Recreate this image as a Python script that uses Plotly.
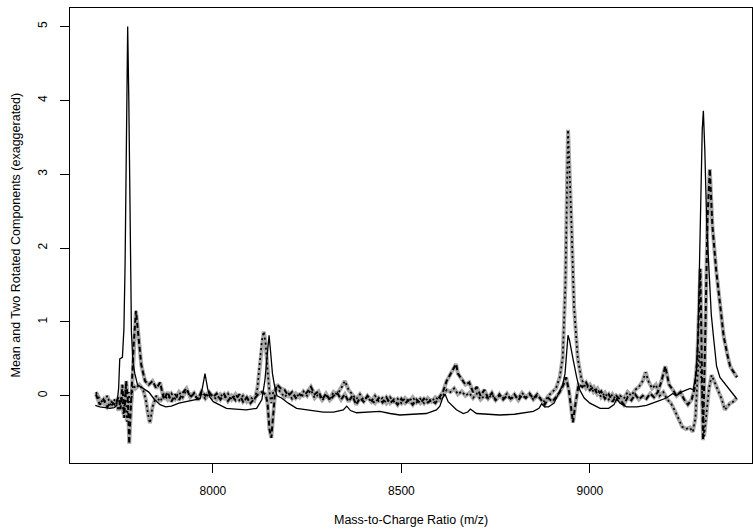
import plotly.graph_objects as go

# ---- Mean spectrum (solid black) ----
mean_mz = [7688, 7700, 7715, 7727, 7738, 7745, 7750, 7753, 7760, 7764, 7767, 7771, 7774, 7777, 7780,
           7784, 7788, 7793, 7800, 7815, 7830, 7845, 7860, 7875, 7890, 7910, 7926, 7945, 7966, 7972,
           7979, 7986, 7992, 8001, 8020, 8036, 8060, 8089, 8116, 8130, 8138, 8144, 8149, 8153, 8158,
           8164, 8170, 8182, 8200, 8222, 8260, 8293, 8320, 8346, 8355, 8365, 8381, 8410, 8443, 8470,
           8496, 8530, 8566, 8593, 8602, 8610, 8616, 8624, 8635, 8646, 8664, 8676, 8683, 8690, 8699,
           8730, 8761, 8800, 8850, 8865, 8872, 8880, 8890, 8905, 8920, 8928, 8934, 8938, 8942, 8946,
           8951, 8956, 8965, 8973, 8985, 9000, 9027, 9050, 9064, 9071, 9080, 9097, 9125, 9150, 9177,
           9203, 9220, 9229, 9242, 9256, 9266, 9274, 9282, 9287, 9291, 9295, 9298, 9301, 9305, 9310,
           9316, 9322, 9327, 9332, 9336, 9345, 9358, 9372, 9388]
mean_val = [-0.13, -0.15, -0.16, -0.17, -0.16, -0.13, 0.1, 0.5, 0.52, 0.9, 1.74, 3.6, 5.0, 4.0, 2.64,
            0.85, 0.45, 0.3, 0.15, 0.1, 0.05, -0.05, -0.12, -0.15, -0.14, -0.1, -0.08, -0.06, -0.04, 0.1,
            0.3, 0.1, -0.02, -0.08, -0.13, -0.17, -0.18, -0.19, -0.17, -0.05, 0.21, 0.55, 0.82, 0.6, 0.3,
            0.12, 0.0, -0.03, -0.1, -0.17, -0.2, -0.22, -0.22, -0.19, -0.14, -0.2, -0.23, -0.22, -0.21, -0.24,
            -0.26, -0.25, -0.24, -0.19, -0.14, -0.02, 0.02, -0.08, -0.14, -0.19, -0.24, -0.22, -0.18, -0.21, -0.24,
            -0.25, -0.26, -0.25, -0.21, -0.17, -0.11, -0.15, -0.15, -0.1, 0.05, 0.15, 0.3, 0.6, 0.82, 0.75,
            0.6, 0.48, 0.25, 0.08, -0.03, -0.1, -0.17, -0.17, -0.12, -0.04, -0.1, -0.15, -0.15, -0.13, -0.08,
            -0.03, 0.03, 0.0, 0.05, 0.08, 0.1, 0.08, 0.3, 0.84, 2.0, 3.1, 3.6, 3.86, 3.3, 2.3,
            1.6, 1.1, 0.84, 0.55, 0.4, 0.25, 0.17, 0.08, -0.03]

# ---- Rotated component 1 (grey + black dashed) ----
c1_mz = [7690, 7700, 7710, 7720, 7730, 7740, 7750, 7755, 7760, 7765, 7770, 7775, 7778, 7782, 7786,
         7790, 7796, 7802, 7810, 7820, 7830, 7840, 7850, 7860, 7870, 7880, 7890, 7900, 7910, 7920,
         7930, 7940, 7950, 7960, 7970, 7980, 7990, 8000, 8010, 8020, 8030, 8040, 8050, 8060, 8070,
         8080, 8090, 8100, 8110, 8120, 8130, 8140, 8145, 8150, 8155, 8160, 8165, 8170, 8180, 8190,
         8200, 8210, 8220, 8230, 8240, 8250, 8260, 8270, 8280, 8290, 8300, 8310, 8320, 8330, 8340,
         8350, 8360, 8370, 8380, 8390, 8400, 8410, 8420, 8430, 8440, 8450, 8460, 8470, 8480, 8490,
         8500, 8510, 8520, 8530, 8540, 8550, 8560, 8570, 8580, 8590, 8600, 8610, 8620, 8630, 8640,
         8645, 8650, 8660, 8670, 8680, 8690, 8700, 8710, 8720, 8730, 8740, 8750, 8760, 8770, 8780,
         8790, 8800, 8810, 8820, 8830, 8840, 8850, 8860, 8870, 8880, 8890, 8900, 8910, 8920, 8930,
         8937, 8945, 8955, 8962, 8970, 8980, 8990, 9000, 9010, 9020, 9030, 9040, 9050, 9060, 9070,
         9080, 9090, 9100, 9110, 9120, 9130, 9140, 9150, 9160, 9170, 9180, 9190, 9200, 9210, 9220,
         9230, 9240, 9250, 9260, 9270, 9278, 9285, 9293, 9300, 9306, 9312, 9318, 9325, 9335, 9345,
         9355, 9365, 9372, 9380, 9385, 9390]
c1_val = [0.02, -0.12, -0.05, -0.15, -0.08, -0.12, -0.02, -0.18, 0.15, -0.3, 0.2, -0.1, -0.65, -0.2, 0.3,
          0.7, 1.15, 0.85, 0.42, 0.2, 0.15, 0.2, 0.1, 0.18, -0.05, 0.05, -0.08, 0.02, -0.06, 0.04,
          0.1, -0.02, 0.03, -0.05, 0.06, 0.0, 0.05, -0.02, 0.03, -0.05, 0.02, -0.07, 0.0, -0.06, 0.02,
          -0.08, -0.02, -0.1, -0.04, 0.02, 0.05, 0.02, -0.1, -0.45, -0.57, -0.2, 0.05, 0.15, 0.1, 0.08,
          0.0, 0.05, -0.03, 0.02, 0.0, 0.05, 0.12, 0.02, 0.06, -0.05, 0.03, -0.06, 0.0, 0.04, -0.05,
          0.02, -0.08, 0.0, -0.12, -0.03, -0.08, 0.0, -0.06, -0.1, -0.03, -0.09, -0.02, -0.1, -0.05, -0.12,
          -0.04, -0.1, -0.06, -0.12, -0.05, -0.1, -0.04, -0.09, -0.06, -0.1, -0.02, 0.05, 0.2, 0.3, 0.38,
          0.43, 0.3, 0.22, 0.15, 0.18, 0.05, 0.12, 0.0, 0.08, -0.03, 0.04, -0.06, 0.02, -0.05, 0.0,
          -0.04, 0.02, -0.06, 0.01, -0.03, 0.03, -0.04, 0.02, -0.05, -0.12, -0.03, -0.08, -0.02, 0.05, 0.15,
          0.25, 0.05, -0.36, -0.1, 0.15, 0.12, 0.18, 0.08, 0.12, 0.02, 0.06, -0.04, 0.02, -0.08, 0.0,
          -0.05, -0.12, -0.02, -0.06, 0.02, -0.05, 0.0, -0.04, 0.03, -0.02, 0.05, 0.2, 0.4, 0.15, 0.08,
          0.0, 0.05, -0.05, -0.12, -0.05, 0.1, 0.5, 1.72, -0.6, 0.8, 2.4, 3.07, 2.3, 1.7, 1.25,
          0.8, 0.55, 0.4, 0.33, 0.3, 0.25]

# ---- Rotated component 2 (grey + black dotted) ----
c2_mz = [7690, 7700, 7710, 7720, 7730, 7740, 7750, 7758, 7763, 7768, 7772, 7777, 7782, 7788, 7795,
         7805, 7815, 7822, 7828, 7833, 7840, 7850, 7860, 7870, 7880, 7890, 7900, 7910, 7920, 7930,
         7940, 7950, 7960, 7970, 7980, 7990, 8000, 8010, 8020, 8030, 8040, 8050, 8060, 8070, 8080,
         8090, 8100, 8110, 8118, 8125, 8130, 8135, 8140, 8145, 8150, 8155, 8160, 8170, 8180, 8190,
         8200, 8210, 8220, 8230, 8240, 8250, 8260, 8270, 8280, 8290, 8300, 8310, 8320, 8330, 8340,
         8350, 8360, 8370, 8380, 8390, 8400, 8410, 8420, 8430, 8440, 8450, 8460, 8470, 8480, 8490,
         8500, 8510, 8520, 8530, 8540, 8550, 8560, 8570, 8580, 8590, 8600, 8610, 8620, 8630, 8640,
         8650, 8660, 8670, 8680, 8690, 8700, 8710, 8720, 8730, 8740, 8750, 8760, 8770, 8780, 8790,
         8800, 8810, 8820, 8830, 8840, 8850, 8860, 8870, 8880, 8890, 8900, 8910, 8920, 8928, 8935,
         8942, 8950, 8958, 8968, 8978, 8990, 9000, 9010, 9020, 9030, 9040, 9050, 9060, 9070, 9080,
         9090, 9100, 9110, 9120, 9130, 9140, 9148, 9155, 9165, 9175, 9185, 9195, 9205, 9215, 9225,
         9235, 9245, 9255, 9265, 9273, 9280, 9285, 9290, 9296, 9303, 9310, 9316, 9323, 9330, 9340,
         9350, 9358, 9365, 9372, 9380, 9390]
c2_val = [0.05, -0.05, -0.1, 0.0, -0.15, -0.05, -0.2, 0.0, -0.25, 0.1, -0.35, 0.05, -0.15, 0.15, 0.1,
          0.15, 0.08, -0.05, -0.25, -0.37, -0.15, 0.0, -0.08, 0.02, -0.05, 0.03, -0.04, 0.05, -0.02, 0.08,
          0.0, 0.04, -0.06, 0.02, -0.04, 0.03, 0.0, -0.05, 0.02, -0.03, 0.03, -0.05, 0.02, -0.06, 0.0,
          -0.08, -0.02, -0.06, 0.1, 0.45, 0.75, 0.87, 0.7, 0.35, 0.05, -0.1, 0.05, 0.1, 0.05, -0.02,
          0.04, -0.04, 0.03, -0.02, 0.06, 0.0, 0.08, -0.03, 0.02, -0.06, 0.0, -0.04, 0.05, 0.02, 0.1,
          0.2, 0.08, 0.02, -0.05, 0.02, -0.06, -0.02, -0.08, 0.0, -0.07, -0.03, -0.1, -0.02, -0.08, -0.04,
          -0.1, -0.03, -0.08, -0.02, -0.09, -0.04, -0.1, -0.03, -0.08, -0.02, -0.06, 0.0, 0.08, 0.05, 0.1,
          0.02, 0.06, 0.0, 0.04, -0.03, 0.03, -0.05, 0.0, -0.04, 0.02, -0.06, 0.0, -0.03, 0.03, -0.05,
          0.0, -0.03, 0.04, -0.02, 0.02, -0.05, 0.0, -0.04, -0.08, 0.0, 0.05, 0.1, 0.25, 0.52, 1.5,
          3.6, 2.5, 1.2, 0.5, 0.22, 0.1, 0.15, 0.05, 0.1, -0.02, 0.04, -0.05, 0.02, -0.06, 0.0,
          -0.04, 0.05, 0.0, 0.08, 0.12, 0.2, 0.32, 0.2, 0.1, 0.15, 0.0, 0.05, -0.05, -0.1, -0.2,
          -0.3, -0.42, -0.45, -0.43, -0.49, -0.3, 0.2, 0.6, 0.2, -0.55, -0.2, 0.1, 0.28, 0.2, 0.08,
          -0.05, -0.19, -0.15, -0.1, -0.08, -0.03]

x_ticks = [8000, 8500, 9000]
y_ticks = [0, 1, 2, 3, 4, 5]

GREY = "#a8a8a8"
FONT = "Liberation Sans, Arial, Helvetica, sans-serif"

fig = go.Figure()
# grey under-lines
fig.add_trace(go.Scatter(x=c1_mz, y=c1_val, mode="lines",
                         line=dict(color=GREY, width=4), showlegend=False, hoverinfo="skip"))
fig.add_trace(go.Scatter(x=c2_mz, y=c2_val, mode="lines",
                         line=dict(color=GREY, width=4), showlegend=False, hoverinfo="skip"))
# black pattern overlays
fig.add_trace(go.Scatter(x=c1_mz, y=c1_val, mode="lines",
                         line=dict(color="black", width=2, dash="5px,3px"), showlegend=False))
fig.add_trace(go.Scatter(x=c2_mz, y=c2_val, mode="lines",
                         line=dict(color="black", width=1.7, dash="2px,3px"), showlegend=False))
# mean
fig.add_trace(go.Scatter(x=mean_mz, y=mean_val, mode="lines",
                         line=dict(color="black", width=1.3), showlegend=False))

axis_common = dict(showgrid=False, zeroline=False, showline=True, linecolor="black", linewidth=1.2,
                   mirror=True, ticks="outside", ticklen=9, tickwidth=1, tickcolor="black",
                   tickfont=dict(family=FONT, size=12, color="black"))

fig.update_layout(
    width=753, height=530,
    margin=dict(l=70, r=1, t=8, b=67),
    paper_bgcolor="white", plot_bgcolor="white",
    font=dict(family=FONT, size=12, color="black"),
    xaxis=dict(range=[7621, 9430], tickvals=x_ticks, ticktext=[str(v) for v in x_ticks],
               ticklabelstandoff=7, **axis_common),
    yaxis=dict(range=[-0.91, 5.25], tickvals=y_ticks, ticktext=[str(v) for v in y_ticks],
               tickangle=-90, ticklabelstandoff=8, **axis_common),
    annotations=[
        dict(text="Mass-to-Charge Ratio (m/z)", xref="paper", yref="paper", x=0.5, y=0,
             yshift=-57, showarrow=False, font=dict(family=FONT, size=12.5, color="black"),
             xanchor="center", yanchor="middle"),
        dict(text="Mean and Two Rotated Components (exaggerated)", xref="paper", yref="paper",
             x=0, y=0.5, xshift=-55, textangle=-90, showarrow=False,
             font=dict(family=FONT, size=12.5, color="black"), xanchor="center", yanchor="middle"),
    ],
)

fig.write_html("out.html", config={"displayModeBar": False},
               post_script="document.body.style.margin='0';document.body.style.overflow='hidden';")
